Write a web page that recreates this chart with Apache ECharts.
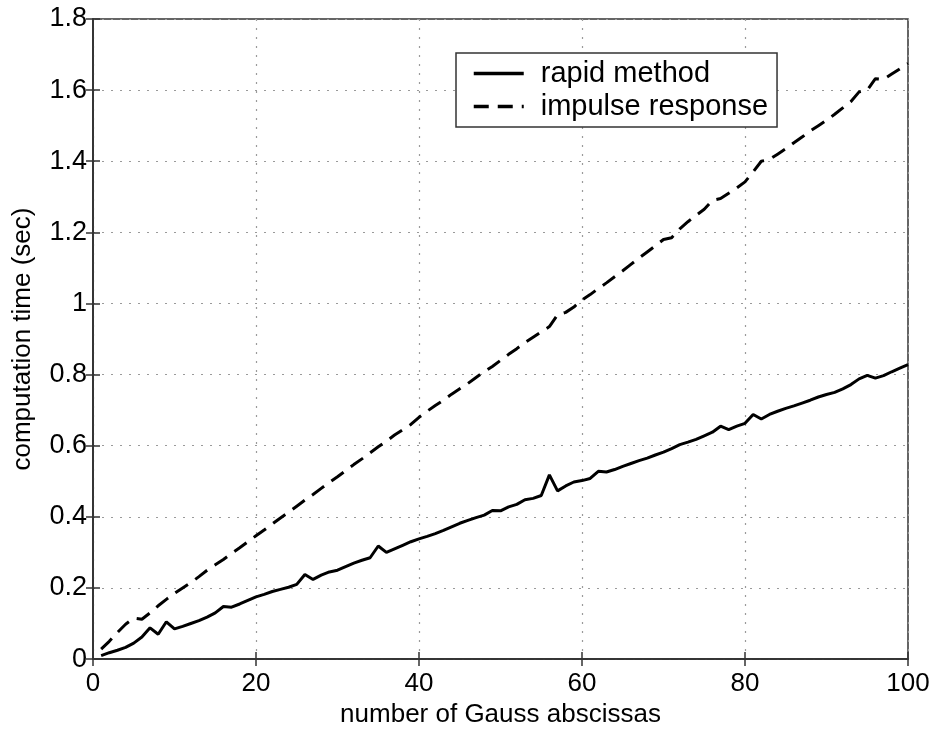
<!DOCTYPE html>
<html>
<head>
<meta charset="utf-8">
<script src="https://cdn.jsdelivr.net/npm/echarts@6/dist/echarts.min.js"></script>
<style>
html, body { margin: 0; padding: 0; background: #fff; }
#main { width: 940px; height: 733px; }
</style>
</head>
<body>
<div id="main"></div>
<script>
// number of Gauss abscissas, 1..100
var gaussN = [];
for (var i = 1; i <= 100; i++) gaussN.push(i);

// computation time (sec)
var rapidMethod = [
    0.010, 0.018, 0.025, 0.033, 0.045, 0.062, 0.088, 0.070, 0.105, 0.085,
    0.092, 0.100, 0.108, 0.118, 0.130, 0.148, 0.146, 0.155, 0.165, 0.175,
    0.182, 0.190, 0.196, 0.202, 0.210, 0.238, 0.224, 0.236, 0.245, 0.250,
    0.260, 0.270, 0.278, 0.285, 0.318, 0.300, 0.310, 0.320, 0.330, 0.338,
    0.345, 0.353, 0.362, 0.372, 0.382, 0.390, 0.398, 0.405, 0.418, 0.417,
    0.428, 0.435, 0.448, 0.452, 0.460, 0.518, 0.473, 0.487, 0.498, 0.502,
    0.508, 0.528, 0.526, 0.533, 0.542, 0.550, 0.558, 0.565, 0.574, 0.582,
    0.592, 0.603, 0.610, 0.618, 0.628, 0.638, 0.655, 0.645, 0.655, 0.663,
    0.688, 0.675, 0.688, 0.697, 0.705, 0.712, 0.720, 0.728, 0.737, 0.744,
    0.750, 0.760, 0.772, 0.788, 0.798, 0.790, 0.797, 0.808, 0.818, 0.828
];
var impulseResponse = [
    0.028, 0.050, 0.075, 0.098, 0.115, 0.112, 0.130, 0.150, 0.168, 0.185,
    0.200, 0.215, 0.232, 0.250, 0.265, 0.280, 0.297, 0.313, 0.330, 0.347,
    0.363, 0.380, 0.397, 0.413, 0.430, 0.447, 0.463, 0.480, 0.497, 0.513,
    0.530, 0.547, 0.563, 0.580, 0.597, 0.613, 0.630, 0.645, 0.660, 0.680,
    0.697, 0.713, 0.728, 0.745, 0.760, 0.775, 0.792, 0.808, 0.823, 0.840,
    0.857, 0.873, 0.890, 0.905, 0.920, 0.935, 0.968, 0.975, 0.990, 1.010,
    1.025, 1.042, 1.058, 1.075, 1.092, 1.110, 1.128, 1.145, 1.162, 1.180,
    1.185, 1.210, 1.230, 1.248, 1.265, 1.290, 1.295, 1.310, 1.325, 1.342,
    1.370, 1.400, 1.405, 1.420, 1.435, 1.452, 1.468, 1.485, 1.500, 1.515,
    1.532, 1.550, 1.568, 1.595, 1.600, 1.632, 1.630, 1.645, 1.660, 1.675
];

function pairs(ys) {
    return gaussN.map(function (x, k) { return [x, ys[k]]; });
}

var font = 'Liberation Sans, Arial, Helvetica, sans-serif';
var gridLine = { show: true, lineStyle: { color: '#9a9a9a', width: 1.2, type: [2, 7] } };
var boxLine = { show: true, lineStyle: { color: '#333', width: 1.5 } };
var tickIn = { show: true, inside: true, length: 7, lineStyle: { color: '#333', width: 1.5 } };

var myChart = echarts.init(document.getElementById('main'));

var option = {
    animation: false,
    backgroundColor: '#fff',
    textStyle: { fontFamily: font },
    grid: {
        left: 93, right: 32, top: 19, bottom: 71,
        show: true, borderColor: '#333', borderWidth: 1.5
    },
    legend: {
        orient: 'vertical',
        left: 456, top: 53,
        data: ['rapid method', 'impulse response'],
        backgroundColor: '#fff',
        borderColor: '#333', borderWidth: 1.5, borderRadius: 0,
        padding: [6, 9, 6, 16],
        itemWidth: 50, itemHeight: 14, itemGap: 4,
        itemStyle: { opacity: 0 },
        lineStyle: { width: 3.5 },
        textStyle: { fontSize: 29, color: '#000', fontFamily: font, padding: [0, 0, 0, 12] }
    },
    xAxis: [{
        type: 'value', min: 0, max: 100, interval: 20,
        name: 'number of Gauss abscissas', nameLocation: 'middle', nameGap: 36,
        nameTextStyle: { fontSize: 26, color: '#000' },
        axisLine: boxLine, axisTick: tickIn, splitLine: gridLine,
        axisLabel: { fontSize: 26, color: '#000', margin: 12 }
    }, {
        type: 'value', min: 0, max: 100, interval: 20, position: 'top',
        axisLine: boxLine, axisTick: tickIn, splitLine: { show: false },
        axisLabel: { show: false }
    }],
    yAxis: [{
        type: 'value', min: 0, max: 1.8, interval: 0.2,
        name: 'computation time (sec)', nameLocation: 'middle', nameGap: 57,
        nameTextStyle: { fontSize: 26, color: '#000' },
        axisLine: boxLine, axisTick: tickIn, splitLine: gridLine,
        axisLabel: { fontSize: 27, color: '#000', margin: 6 }
    }, {
        type: 'value', min: 0, max: 1.8, interval: 0.2, position: 'right',
        axisLine: boxLine, axisTick: tickIn, splitLine: { show: false },
        axisLabel: { show: false }
    }],
    series: [
        {
            name: 'rapid method',
            type: 'line',
            symbol: 'none',
            color: '#000',
            lineStyle: { color: '#000', width: 3, type: 'solid' },
            data: pairs(rapidMethod)
        },
        {
            name: 'impulse response',
            type: 'line',
            symbol: 'none',
            color: '#000',
            lineStyle: { color: '#000', width: 3, type: [15, 9] },
            data: pairs(impulseResponse)
        }
    ]
};

myChart.setOption(option);

window.onresize = function () {
    myChart.resize();
};
</script>
</body>
</html>
